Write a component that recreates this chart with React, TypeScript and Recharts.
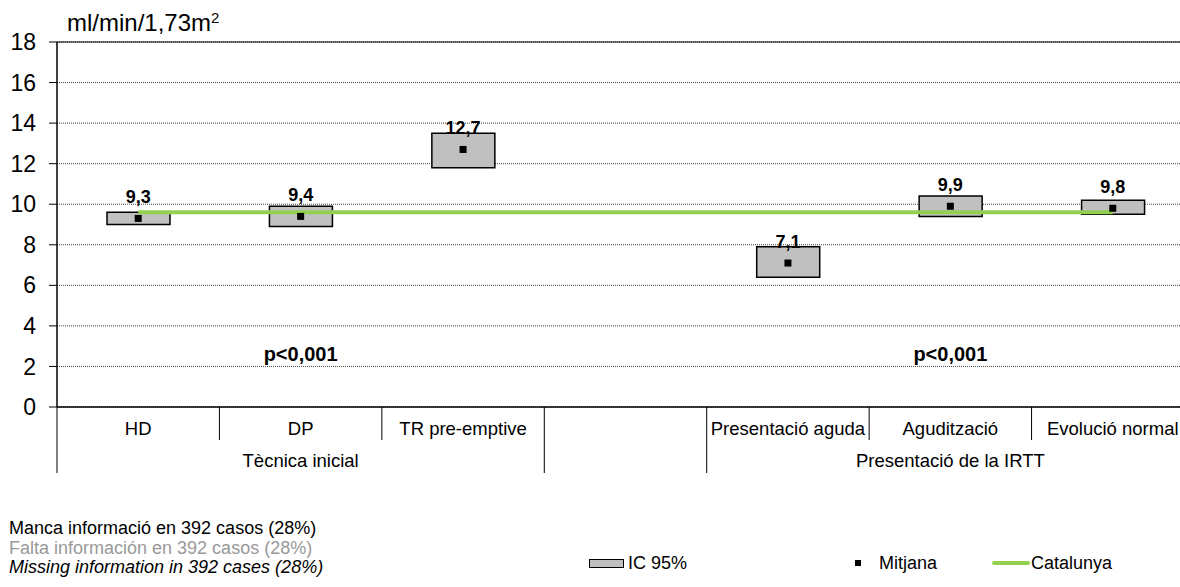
import React from "react";
import {
  ComposedChart,
  Bar,
  Line,
  Scatter,
  XAxis,
  YAxis,
  CartesianGrid,
  ReferenceLine,
  ReferenceDot,
  LabelList,
} from "recharts";

const categories = ["HD", "DP", "TR pre-emptive", "", "Presentació aguda", "Agudització", "Evolució normal"];
const groups = ["Tècnica inicial", "Tècnica inicial", "Tècnica inicial", "", "Presentació de la IRTT", "Presentació de la IRTT", "Presentació de la IRTT"];
const ciLow = [9.0, 8.9, 11.8, null, 6.4, 9.4, 9.5];
const ciHigh = [9.6, 9.9, 13.5, null, 7.9, 10.4, 10.2];
const means = [9.3, 9.4, 12.7, null, 7.1, 9.9, 9.8];
const catalunya = [9.6, 9.6, 9.6, 9.6, 9.6, 9.6, 9.6];
const yTicks = [0, 2, 4, 6, 8, 10, 12, 14, 16, 18];
const pNotes = [
  { category: "DP", y: 2.6, text: "p<0,001" },
  { category: "Agudització", y: 2.6, text: "p<0,001" },
];
const notes = [
  "Manca informació en 392 casos (28%)",
  "Falta información en 392 casos (28%)",
  "Missing information in 392 cases (28%)",
];

const FONT = "'Liberation Sans', Arial, Helvetica, sans-serif";

const data = categories.map((name, i) => ({
  name,
  group: groups[i],
  ci: ciLow[i] == null ? null : [ciLow[i], ciHigh[i]],
  mean: means[i],
  catalunya: catalunya[i],
}));

const fmt = (v: any) => (v == null ? "" : Number(v).toFixed(1).replace(".", ","));

const CategoryTick = (props: any) => {
  const { x, y, payload, index } = props;
  const half = payload && payload.offset ? payload.offset : 81.2;
  const i = index;
  const leftLong = i === 0 || groups[i] !== groups[i - 1];
  const isLast = i === categories.length - 1;
  // group label goes under the middle category of each group
  const showGroup =
    groups[i] !== "" &&
    groups[i - 1] === groups[i] &&
    groups[i + 1] === groups[i];
  return (
    <g>
      <line x1={x - half} x2={x - half} y1={y} y2={y + (leftLong ? 66 : 33)} stroke="#000" strokeWidth={1} />
      {isLast && <line x1={x + half} x2={x + half} y1={y} y2={y + 66} stroke="#000" strokeWidth={1} />}
      <text x={x} y={y + 21} textAnchor="middle" dominantBaseline="central" fontSize={18.5} fill="#000" fontFamily={FONT}>
        {categories[i]}
      </text>
      {showGroup && (
        <text x={x} y={y + 53} textAnchor="middle" dominantBaseline="central" fontSize={18.5} fill="#000" fontFamily={FONT}>
          {groups[i]}
        </text>
      )}
    </g>
  );
};

const MeanShape = (props: any) => {
  const { cx, cy } = props;
  if (cx == null || cy == null) return <g />;
  return <rect x={cx - 3.5} y={cy - 3.5} width={7} height={7} fill="#000" />;
};

export default function App() {
  return (
    <div
      style={{
        position: "absolute",
        left: 0,
        top: 0,
        width: 1180,
        height: 587,
        overflow: "hidden",
        background: "#fff",
        fontFamily: FONT,
      }}
    >
      <div style={{ position: "absolute", left: 67, top: 11, fontSize: 24, lineHeight: "24px", color: "#000" }}>
        ml/min/1,73m<sup style={{ fontSize: 15, verticalAlign: "top", lineHeight: "15px", position: "relative", top: -1 }}>2</sup>
      </div>

      <ComposedChart width={1200} height={587} data={data} margin={{ top: 42, right: 6, bottom: 114, left: 0 }}>
        <CartesianGrid horizontal vertical={false} stroke="#444" strokeDasharray="1 1" />
        <ReferenceLine y={18} stroke="#000" strokeWidth={1} />
        <XAxis
          dataKey="name"
          interval={0}
          height={66}
          axisLine={{ stroke: "#000", strokeWidth: 1.5 }}
          tickLine={false}
          tickSize={0}
          tickMargin={0}
          tick={<CategoryTick />}
        />
        <YAxis
          width={57}
          domain={[0, 18]}
          ticks={yTicks}
          interval={0}
          axisLine={{ stroke: "#000", strokeWidth: 1.5 }}
          tickLine={{ stroke: "#000" }}
          tickSize={8}
          tickMargin={13}
          tick={{ fontSize: 23, fill: "#000", fontFamily: FONT }}
        />
        <Bar dataKey="ci" barSize={63} fill="#c0c0c0" stroke="#000" strokeWidth={1.5} isAnimationActive={false} />
        <Line
          dataKey="catalunya"
          stroke="#92d050"
          strokeWidth={4}
          dot={false}
          activeDot={false}
          isAnimationActive={false}
        />
        <Scatter dataKey="mean" shape={<MeanShape />} isAnimationActive={false}>
          <LabelList
            dataKey="mean"
            position="top"
            offset={11}
            formatter={fmt}
            style={{ fontSize: 18, fontWeight: "bold", fill: "#000", fontFamily: FONT }}
          />
        </Scatter>
        {pNotes.map((p) => (
          <ReferenceDot
            key={p.category}
            x={p.category}
            y={p.y}
            r={0}
            fill="none"
            stroke="none"
            label={{ value: p.text, position: "center", fontSize: 20, fontWeight: "bold", fill: "#000", fontFamily: FONT }}
          />
        ))}
      </ComposedChart>

      <div style={{ position: "absolute", left: 9, top: 519, fontSize: 18, lineHeight: "19.5px" }}>
        <div style={{ color: "#000" }}>{notes[0]}</div>
        <div style={{ color: "#999" }}>{notes[1]}</div>
        <div style={{ color: "#000", fontStyle: "italic" }}>{notes[2]}</div>
      </div>

      <div style={{ position: "absolute", left: 0, top: 553, height: 20, width: 1180, fontSize: 18 }}>
        <div style={{ position: "absolute", left: 589, top: 6, width: 33, height: 7, background: "#c0c0c0", border: "1.5px solid #000" }} />
        <div style={{ position: "absolute", left: 628, top: 0, lineHeight: "20px" }}>IC 95%</div>
        <div style={{ position: "absolute", left: 855, top: 7, width: 6, height: 6, background: "#000" }} />
        <div style={{ position: "absolute", left: 879, top: 0, lineHeight: "20px" }}>Mitjana</div>
        <div style={{ position: "absolute", left: 992, top: 8, width: 38, height: 4, background: "#92d050", borderRadius: 2 }} />
        <div style={{ position: "absolute", left: 1031, top: 0, lineHeight: "20px" }}>Catalunya</div>
      </div>
    </div>
  );
}
